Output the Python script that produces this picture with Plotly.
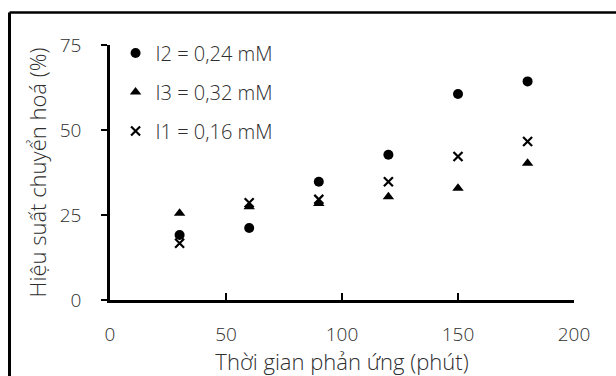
import plotly.graph_objects as go

time_min = [30, 60, 90, 120, 150, 180]
i2_values = [19.1, 21.2, 34.8, 42.7, 60.6, 64.3]
i3_values = [25.5, 27.4, 28.4, 30.4, 32.9, 40.2]
i1_values = [16.7, 28.6, 29.6, 34.8, 42.2, 46.6]

series = [
    ("I2 = 0,24 mM", i2_values, "circle", 10),
    ("I3 = 0,32 mM", i3_values, "triangle-up", 10),
    ("I1 = 0,16 mM", i1_values, "x-thin", 9),
]

fig = go.Figure()
for i, (name, vals, sym, sz) in enumerate(series):
    fig.add_trace(go.Scatter(
        x=time_min, y=vals, mode="markers", name=name, legendgroup=f"g{i}",
        marker=dict(symbol=sym, size=sz, color="black",
                    line=dict(color="black", width=2.2 if sym == "x-thin" else 0)),
    ))

font_family = "Open Sans"
txt = "#2e2e2e"

fig.update_layout(
    width=616, height=376,
    margin=dict(l=110, r=42, t=45, b=76),
    paper_bgcolor="white", plot_bgcolor="white",
    font=dict(family=font_family, size=20, color=txt, weight=300),
    showlegend=True,
    legend=dict(x=0.012, y=1.045, xanchor="left", yanchor="top",
                bgcolor="rgba(0,0,0,0)", tracegroupgap=10,
                font=dict(size=20, color=txt, weight=300), itemwidth=30),
    xaxis=dict(range=[0, 200], tickvals=[0, 50, 100, 150, 200],
               showgrid=False, zeroline=False, showline=True, linecolor="black",
               linewidth=2.5, ticks="inside", ticklen=7, tickwidth=2, tickcolor="black",
               ticklabelstandoff=15, tickfont=dict(size=19),
               title=dict(text="Thời gian phản ứng (phút)", standoff=2,
                          font=dict(size=22, color=txt, weight=300))),
    yaxis=dict(range=[0, 75], tickvals=[0, 25, 50, 75],
               showgrid=False, zeroline=False, showline=True, linecolor="black",
               linewidth=2.5, ticks="outside", ticklen=6, tickwidth=2, tickcolor="black",
               ticklabelstandoff=16, tickfont=dict(size=19),
               title=dict(text="Hiệu suất chuyển hoá (%)", standoff=8,
                          font=dict(size=22, color=txt, weight=300))),
)

# outer chart frame (left and top edges visible)
fig.add_shape(type="line", xref="paper", yref="paper",
              x0=-0.2166, x1=-0.2166, y0=-0.6, y1=1.1275,
              line=dict(color="black", width=3))
fig.add_shape(type="line", xref="paper", yref="paper",
              x0=-0.2166, x1=1.2, y0=1.1275, y1=1.1275,
              line=dict(color="black", width=2.5))

fig.write_html("out.html")
